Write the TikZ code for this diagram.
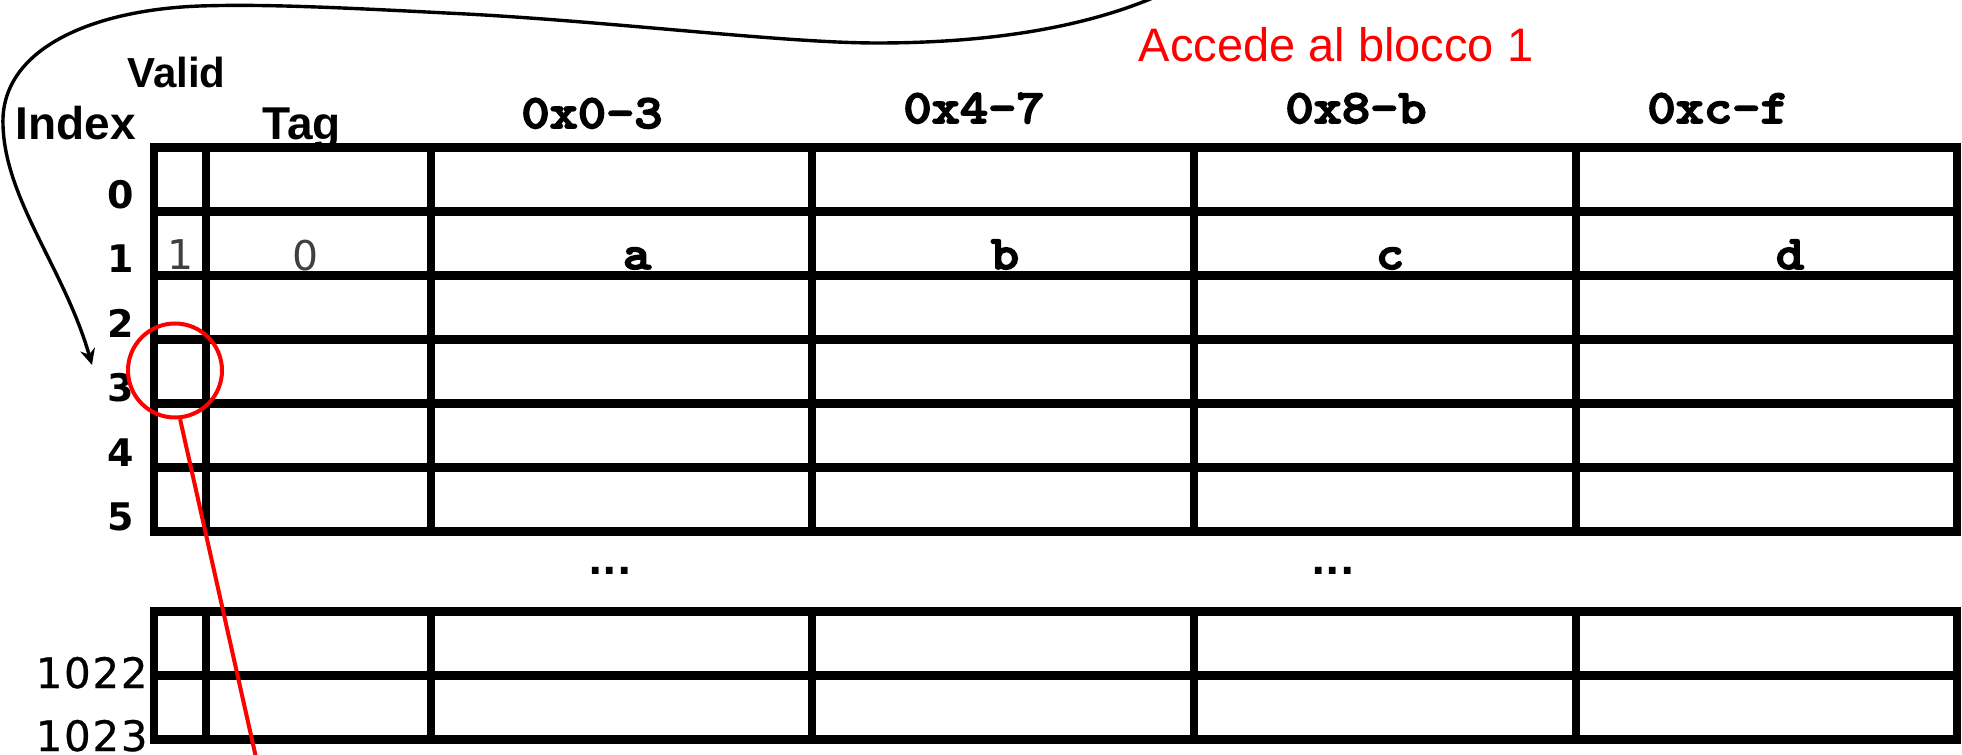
\documentclass[tikz,border=0pt]{standalone}
\usepackage{fontspec}
\setmainfont{Liberation Sans}
\newfontfamily\courfont[FakeStretch=1.12,FakeBold=3.5]{lmmonolt10-bold.otf}
\newfontfamily\dvfont{DejaVu Sans}
\newfontfamily\dvmid[FakeBold=0.6,LetterSpace=4]{DejaVu Sans}
\usetikzlibrary{arrows.meta}
\begin{document}
\begin{tikzpicture}[x=0.5pt,y=-0.5pt,
  gridline/.style={line width=4.25pt, line cap=rect},
  txt/.style={inner sep=0pt, anchor=base},
  hdr/.style={txt, font=\bfseries\fontsize{23}{23}\selectfont},
  addr/.style={txt, font=\courfont\fontsize{24}{24}\selectfont},
  rowlbl/.style={inner sep=0pt, anchor=base east, font=\dvfont\bfseries\fontsize{19}{19}\selectfont},
  rowlblb/.style={inner sep=0pt, anchor=base east, font=\dvmid\fontsize{21}{21}\selectfont},
  thin/.style={txt, text=black!75, font=\dvfont\fontsize{20.5}{20.5}\selectfont},
  dotsl/.style={txt, font=\dvfont\bfseries\fontsize{19}{19}\selectfont},
  redline/.style={draw=red, line width=2pt},
  arc/.style={line width=1.7pt, -{Stealth[length=8pt,width=7.5pt]}}]
\useasboundingbox (0,0) rectangle (1962,754);
% top table
\foreach \yy in {147.5,211.5,275.5,339.5,403.5,467.5,531.5}
  \draw[gridline] (154,\yy) -- (1957,\yy);
\foreach \xx in {154,206,431,812,1194,1576,1957}
  \draw[gridline] (\xx,147.5) -- (\xx,531.5);
% bottom table
\foreach \yy in {611.5,675.5,739.5}
  \draw[gridline] (154,\yy) -- (1957,\yy);
\foreach \xx in {154,206,431,812,1194,1576,1957}
  \draw[gridline] (\xx,611.5) -- (\xx,739.5);
% headers
\node[hdr] (index) at (76,140) {Index};
\node[txt, font=\bfseries\fontsize{21}{21}\selectfont] (valid) at (176.5,88) {Valid};
\node[hdr] (tag) at (301.5,140) {Tag};
\node[addr] (c0) at (592,128) {0x0-3};
\node[addr] (c1) at (974,123) {0x4-7};
\node[addr] (c2) at (1356,123) {0x8-b};
\node[addr] (c3) at (1718,123) {0xc-f};
\node[txt, text=red, font=\fontsize{23.5}{23.5}\selectfont] (acc) at (1336,62) {Accede al blocco 1};
% row labels
\node[rowlbl] (r0) at (134,208) {0};
\node[rowlbl] (r1) at (134,272.5) {1};
\node[rowlbl] (r2) at (134,337) {2};
\node[rowlbl] (r3) at (134,401.5) {3};
\node[rowlbl] (r4) at (134,466) {4};
\node[rowlbl] (r5) at (134,530.5) {5};
\node[rowlblb] (r1022) at (148,688) {1022};
\node[rowlblb] (r1023) at (148,751) {1023};
% row 1 content
\node[thin] (v1) at (181,269) {1};
\node[thin] (t1) at (306,270) {0};
\node[addr] (da) at (637,269) {a};
\node[addr] (db) at (1005,269) {b};
\node[addr] (dc) at (1390,269) {c};
\node[addr] (dd) at (1790,269) {d};
% ellipses
\node[dotsl] (e1) at (610,574) {...};
\node[dotsl] (e2) at (1333,574) {...};
% red circle and line
\node[circle, draw=red, line width=2pt, minimum size=47pt, inner sep=0pt] (ring) at (175,370.5) {};
\coordinate (redend) at (257,762);
\draw[redline] (ring.-84) -- (redend);
% curved arrow
\coordinate (arrowfrom) at (1190,-20);
\coordinate (arrowto) at (92,365);
\draw[arc] (arrowfrom) .. controls (1100,30) and (980,43) .. (877,43)
  .. controls (780,43) and (600,20) .. (446,13)
  .. controls (330,7) and (260,4) .. (200,6)
  .. controls (90,10) and (0,50) .. (3,125)
  .. controls (5,200) and (65,270) .. (arrowto);
\end{tikzpicture}
\end{document}
